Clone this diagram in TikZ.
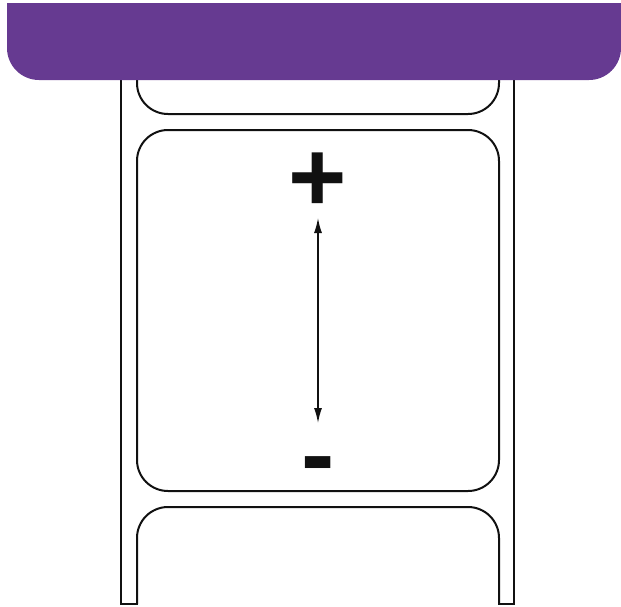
\documentclass[tikz,border=0pt]{standalone}
\usepackage{fontspec}
\setmainfont{Liberation Sans}
\usepackage{xcolor}
\definecolor{banner}{HTML}{663A91}
\definecolor{ink}{HTML}{111111}
\usetikzlibrary{arrows.meta}

\begin{document}
\begin{tikzpicture}[
  x=1pt, y=-1pt,
  liner/.style={draw=ink, line width=2pt, line cap=rect},
  labeledge/.style={draw=ink, line width=2pt, rounded corners=31pt},
  sign/.style={font=\fontsize{100}{100}\selectfont\bfseries, text=ink, inner sep=0pt},
  span/.style={{Latex[length=15pt,width=8pt]}-{Latex[length=15pt,width=8pt]}, ink, line width=1.4pt}
]
  \useasboundingbox (0,0) rectangle (621,606);

  % backing strip
  \draw[liner] (121,60) -- (121,604) -- (137,604);
  \draw[liner] (514,60) -- (514,604) -- (499,604);

  % labels on the strip
  \draw[labeledge] (137,40) -- (137,114) -- (499,114) -- (499,40);
  \draw[labeledge] (137,130) rectangle (499,491);
  \draw[labeledge] (137,604) -- (137,507) -- (499,507) -- (499,604);

  % banner on top
  \fill[banner, rounded corners=32pt] (7,3) rectangle (621,80);
  \fill[banner] (7,3) rectangle (621,45);

  % feed direction
  \node[sign] (plus) at (318,182) {+};
  \node[sign] (minus) at (318,473) {-};
  \coordinate (top) at (318,218);
  \coordinate (bottom) at (318,423);
  \draw[span] (bottom) -- (top);
\end{tikzpicture}
\end{document}
